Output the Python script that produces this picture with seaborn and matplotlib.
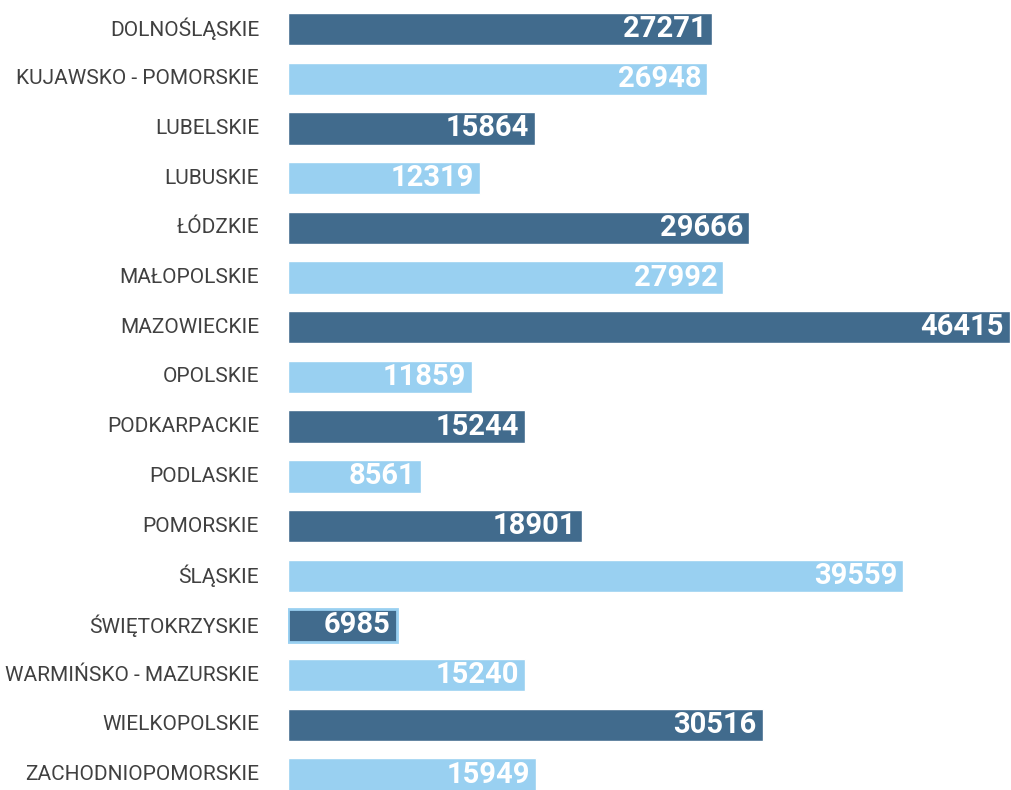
import matplotlib
matplotlib.use("Agg")
import matplotlib.pyplot as plt
import seaborn as sns

sns.set_theme(style="white")
plt.rcParams["font.family"] = ["Roboto", "DejaVu Sans"]

# ── Data ──────────────────────────────────────────────────
regions = [
    "DOLNOŚLĄSKIE", "KUJAWSKO - POMORSKIE", "LUBELSKIE", "LUBUSKIE",
    "ŁÓDZKIE", "MAŁOPOLSKIE", "MAZOWIECKIE", "OPOLSKIE",
    "PODKARPACKIE", "PODLASKIE", "POMORSKIE", "ŚLĄSKIE",
    "ŚWIĘTOKRZYSKIE", "WARMIŃSKO - MAZURSKIE", "WIELKOPOLSKIE",
    "ZACHODNIOPOMORSKIE",
]
values = [27271, 26948, 15864, 12319, 29666, 27992, 46415, 11859,
          15244, 8561, 18901, 39559, 6985, 15240, 30516, 15949]

dark = "#416b8d"
light = "#99d0f1"
palette = [dark if i % 2 == 0 else light for i in range(len(regions))]

# ── Plot ──────────────────────────────────────────────────
fig = plt.figure(figsize=(10.11, 7.9), dpi=100)
ax = fig.add_axes([288 / 1011, 0, 723 / 1011, 1])

sns.barplot(x=values, y=regions, hue=regions, palette=palette,
            legend=False, orient="h", width=0.65, saturation=1, ax=ax)

# the small Świętokrzyskie bar has a light outline in the original
ax.patches[12].set_edgecolor(light)
ax.patches[12].set_linewidth(2)

ax.set_xlim(0, max(values) * 1.0015)
ax.set_ylim(15.31, -0.583)
ax.set_xticks([])
ax.set_yticks([])
ax.set_xlabel("")
ax.set_ylabel("")
for s in ax.spines.values():
    s.set_visible(False)

for i, (name, v) in enumerate(zip(regions, values)):
    ax.annotate(name, xy=(0, i), xytext=(-29, 0), textcoords="offset pixels",
                ha="right", va="center", fontsize=15, color="#404040",
                annotation_clip=False)
    ax.annotate(str(v), xy=(v, i), xytext=(-6, 0), textcoords="offset pixels",
                ha="right", va="center", fontsize=21, fontweight="bold",
                color="white", annotation_clip=False)

plt.savefig("out.png", dpi=100)
